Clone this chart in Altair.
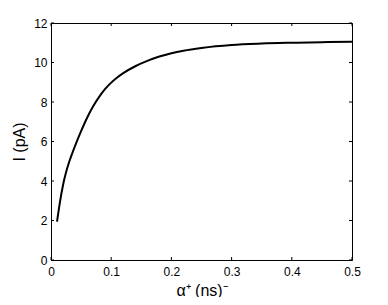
import altair as alt
import pandas as pd

alpha = [0.01, 0.015, 0.02, 0.025, 0.03, 0.035, 0.04, 0.05, 0.06, 0.07, 0.08, 0.09, 0.10, 0.11,
         0.12, 0.14, 0.16, 0.18, 0.20, 0.22, 0.25, 0.30, 0.35, 0.40, 0.45, 0.50]
current = [1.94, 2.96, 3.8, 4.44, 4.95, 5.38, 5.78, 6.52, 7.2, 7.78, 8.26, 8.66, 8.98, 9.24,
           9.46, 9.81, 10.08, 10.3, 10.47, 10.6, 10.74, 10.89, 10.96, 11.0, 11.03, 11.05]
x_ticks = [0, 0.1, 0.2, 0.3, 0.4, 0.5]
y_ticks = [0, 2, 4, 6, 8, 10, 12]

W, H = 301, 237
TL = 3
FONT = "Liberation Sans"

df = pd.DataFrame({"alpha": alpha, "I": current})
xt = pd.DataFrame({"t": x_ticks})
yt = pd.DataFrame({"t": y_ticks})

xs = alt.Scale(domain=[0, 0.5], nice=False, zero=False)
ys = alt.Scale(domain=[0, 12], nice=False, zero=False)

line = alt.Chart(df).mark_line(color="black", strokeWidth=2, interpolate="monotone").encode(
    x=alt.X("alpha:Q", scale=xs,
            axis=alt.Axis(values=x_ticks, format="~g", title="α⁺ (ns)⁻", orient="bottom",
                          labelOverlap=False, labelPadding=6, titlePadding=5)),
    y=alt.Y("I:Q", scale=ys,
            axis=alt.Axis(values=y_ticks, format="d", title="I (pA)", orient="left",
                          labelOverlap=False, labelPadding=4, titlePadding=6)),
)

bottom = alt.Chart(xt).mark_rule(color="black", strokeWidth=1).encode(
    x=alt.X("t:Q", scale=xs, axis=None), y=alt.value(H), y2=alt.value(H - TL))
top = alt.Chart(xt).mark_rule(color="black", strokeWidth=1).encode(
    x=alt.X("t:Q", scale=xs, axis=None), y=alt.value(0), y2=alt.value(TL))
left = alt.Chart(yt).mark_rule(color="black", strokeWidth=1).encode(
    y=alt.Y("t:Q", scale=ys, axis=None), x=alt.value(0), x2=alt.value(TL))
right = alt.Chart(yt).mark_rule(color="black", strokeWidth=1).encode(
    y=alt.Y("t:Q", scale=ys, axis=None), x=alt.value(W), x2=alt.value(W - TL))

chart = alt.layer(line, bottom, top, left, right).resolve_axis(
    x="independent", y="independent"
).properties(
    width=W, height=H,
    autosize=alt.AutoSizeParams(type="none"),
    padding={"left": 43, "top": 15, "right": 20, "bottom": 37},
    background="white",
).configure_view(
    stroke="black", strokeWidth=1
).configure_axis(
    grid=False, ticks=False, domainColor="black", domainWidth=1,
    labelFont=FONT, labelFontSize=12, labelColor="black",
    labelBound=False, labelFlush=False,
    titleFont=FONT, titleFontSize=16, titleFontWeight="normal", titleColor="black",
)

chart.save("out.html", embed_options={"renderer": "svg", "actions": False})
